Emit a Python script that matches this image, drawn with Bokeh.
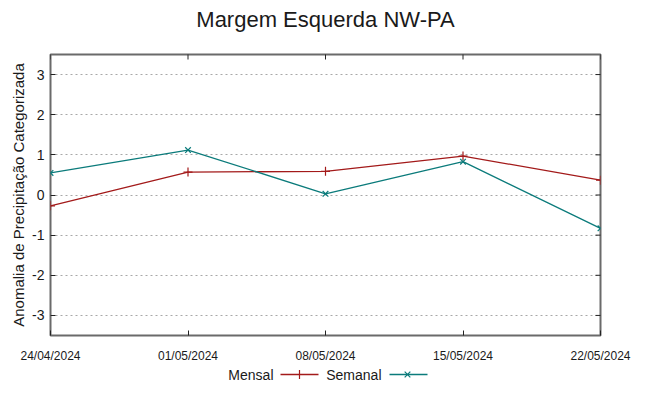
import math
from datetime import datetime
from bokeh.plotting import figure
from bokeh.layouts import column
from bokeh.models import (ColumnDataSource, FixedTicker, DatetimeTickFormatter, Range1d)
from bokeh.core.properties import value
from bokeh.embed import file_html
from bokeh.resources import INLINE

# ---- data ----
dates = ["2024-04-24", "2024-05-01", "2024-05-08", "2024-05-15", "2024-05-22"]
mensal = [-0.27, 0.57, 0.59, 0.97, 0.37]
semanal = [0.55, 1.12, 0.03, 0.83, -0.83]
y_ticks = [-3, -2, -1, 0, 1, 2, 3]
title_text = "Margem Esquerda NW-PA"
y_label = "Anomalia de Precipitação Categorizada"
series_names = ["Mensal", "Semanal"]

FONT = "Liberation Sans"
RED = "#a31a1a"
TEAL = "#0b7b7b"
TXT = "#1a1a1a"

xs = [datetime.strptime(d, "%Y-%m-%d") for d in dates]
x_ms = [x.timestamp() * 1000 for x in xs]
src = ColumnDataSource(dict(x=xs, mensal=mensal, semanal=semanal))

# ---- title strip ----
tfig = figure(width=633, height=32, output_backend="svg", toolbar_location=None,
              x_range=Range1d(50, 600), y_range=Range1d(32, 0),
              min_border=0, outline_line_color=None)
tfig.axis.visible = False
tfig.grid.visible = False
tfig.text(x=[325], y=[19], text=[title_text], text_align="center",
          text_baseline="middle", text_font=value(FONT), text_font_size="22px",
          text_color=TXT)

# ---- main plot ----
p = figure(width=633, height=331, x_axis_type="datetime",
           output_backend="svg", toolbar_location=None,
           x_range=Range1d(xs[0], xs[-1]), y_range=Range1d(-3.5, 3.5),
           frame_width=550, frame_height=281,
           min_border_left=50, min_border_right=33, min_border_top=22,
           min_border_bottom=28)

p.outline_line_color = "#6a6a6a"
p.outline_line_width = 2

p.xgrid.visible = False
p.ygrid.ticker = FixedTicker(ticks=y_ticks)
p.ygrid.grid_line_color = "#a8a8a8"
p.ygrid.grid_line_dash = "2 3"
p.ygrid.grid_line_width = 1

xax = p.xaxis[0]
xax.ticker = FixedTicker(ticks=x_ms)
xax.formatter = DatetimeTickFormatter(days="%d/%m/%Y", months="%d/%m/%Y")
xax.major_label_text_font = FONT
xax.major_label_text_font_size = "12px"
xax.major_label_text_color = TXT
xax.major_label_standoff = 13
xax.major_tick_in = 5
xax.major_tick_out = 0
xax.minor_tick_in = 0
xax.minor_tick_out = 0
xax.axis_line_color = None
xax.major_tick_line_color = "#222222"

yax = p.yaxis[0]
yax.ticker = FixedTicker(ticks=y_ticks)
yax.major_label_overrides = {t: str(t) for t in y_ticks}
yax.major_label_text_font = FONT
yax.major_label_text_font_size = "14px"
yax.major_label_text_color = TXT
yax.major_label_standoff = 6
yax.major_tick_in = 5
yax.major_tick_out = 0
yax.minor_tick_in = 0
yax.minor_tick_out = 0
yax.axis_line_color = None
yax.major_tick_line_color = "#222222"
yax.axis_label = y_label
yax.axis_label_text_font = FONT
yax.axis_label_text_font_size = "15px"
yax.axis_label_text_font_style = "normal"
yax.axis_label_text_color = TXT
yax.axis_label_standoff = 2

# mirrored inward ticks on right and top edges (half of each dash is clipped by the frame)
p.scatter(x=[xs[-1]] * len(y_ticks), y=y_ticks, marker="dash", size=10,
          line_color="#222222", line_width=1)
p.scatter(x=xs, y=[3.5] * len(xs), marker="dash", angle=math.pi / 2, size=10,
          line_color="#222222", line_width=1)

p.line("x", "mensal", source=src, line_color=RED, line_width=1.3)
p.scatter("x", "mensal", source=src, marker="cross", size=9, line_color=RED, line_width=1.2)
p.line("x", "semanal", source=src, line_color=TEAL, line_width=1.3)
p.scatter("x", "semanal", source=src, marker="x", size=8, line_color=TEAL, line_width=1.2)

# ---- legend strip (gnuplot style: text, then sample) ----
leg = figure(width=633, height=17, output_backend="svg", toolbar_location=None,
             x_range=Range1d(50, 600), y_range=Range1d(17, 0),
             min_border=0, outline_line_color=None)
leg.axis.visible = False
leg.grid.visible = False
leg.text(x=[273, 381], y=[9, 9], text=series_names, text_align="right",
         text_baseline="middle", text_font=value(FONT), text_font_size="14px",
         text_color=TXT)
leg.segment(x0=[280, 389], y0=[9, 9], x1=[318, 427], y1=[9, 9],
            line_color=[RED, TEAL], line_width=1.3)
leg.scatter(x=[299], y=[9], marker="cross", size=9, line_color=RED, line_width=1.2)
leg.scatter(x=[407], y=[9], marker="x", size=8, line_color=TEAL, line_width=1.2)

layout = column(tfig, p, leg, spacing=0)
open("out.html", "w").write(file_html(layout, INLINE))
